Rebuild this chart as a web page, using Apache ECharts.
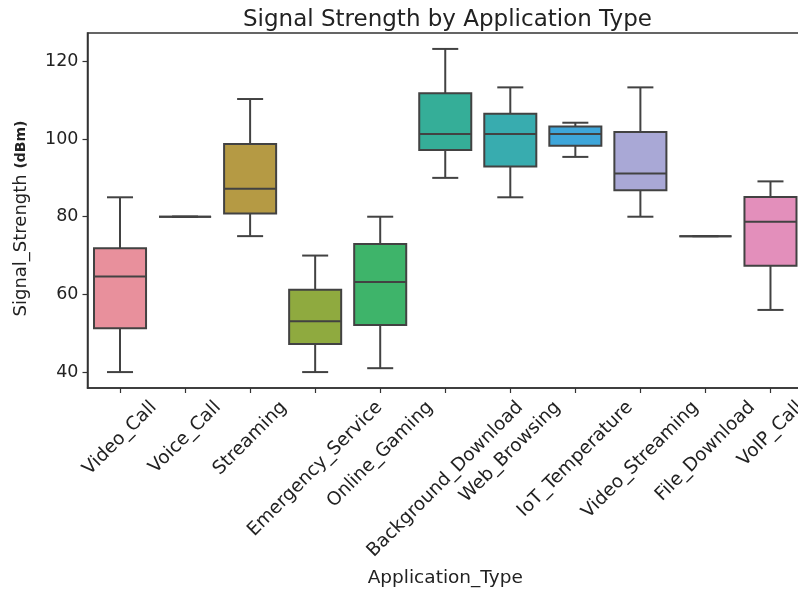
<!DOCTYPE html>
<html><head><meta charset="utf-8">
<script src="https://cdn.jsdelivr.net/npm/echarts@6/dist/echarts.min.js"></script>
<style>html,body{margin:0;padding:0;background:#fff}#c{width:798px;height:593px}</style>
</head><body><div id="c"></div>
<script>
const categories = ['Video_Call','Voice_Call','Streaming','Emergency_Service','Online_Gaming','Background_Download','Web_Browsing','IoT_Temperature','Video_Streaming','File_Download','VoIP_Call'];
const whiskerLow  = [40, 80, 75, 40, 41, 90, 85, 95.4, 80, 75, 56];
const q1          = [51.3, 80, 80.8, 47.2, 52.1, 97.2, 92.9, 98.3, 86.8, 75, 67.4];
const median      = [64.6, 80, 87.2, 53.1, 63.2, 101.3, 101.3, 101.3, 91.1, 75, 78.7];
const q3          = [71.9, 80, 98.7, 61.2, 73.0, 111.8, 106.5, 103.2, 101.8, 75, 85.1];
const whiskerHigh = [85, 80, 110.3, 70, 80, 123.2, 113.3, 104.2, 113.3, 75, 89.1];
const boxColors = ['#e8909c','#d9985a','#b59a44','#8faa3f','#3eb46a','#35ae98','#38acaf','#3ea6da','#a9a8d6','#c98fd6','#e38fbb'];
const yTicks = [40, 60, 80, 100, 120];

const FONT = '"DejaVu Sans", sans-serif';
const xLabelSize = 18.5;
const ctx = document.createElement('canvas').getContext('2d');
ctx.font = xLabelSize + 'px "DejaVu Sans"';
const labelW = categories.map(c => ctx.measureText(c).width);
const labelH = xLabelSize * 1.16;
const labelPad = 9;

const data = categories.map((c, i) => [i, whiskerLow[i], q1[i], median[i], q3[i], whiskerHigh[i]]);
const labelData = categories.map((c, i) => [i]);
const LC = '#424242';
const LW = 2;

const chart = echarts.init(document.getElementById('c'), null, {renderer: 'canvas'});
chart.setOption({
  backgroundColor: '#fff',
  animation: false,
  title: {
    text: 'Signal Strength by Application Type',
    left: 238, top: 4,
    textStyle: {fontFamily: FONT, fontSize: 23, fontWeight: 'normal', color: '#222'}
  },
  grid: {left: 87.5, right: -5, top: 33, bottom: 205, outerBoundsMode: 'none', containLabel: false, show: true, borderColor: '#333', borderWidth: 1.5, backgroundColor: 'transparent'},
  xAxis: {
    type: 'category',
    data: categories,
    boundaryGap: true,
    name: 'Application_Type',
    nameLocation: 'middle',
    nameGap: 181,
    nameTextStyle: {fontFamily: FONT, fontSize: 18.5, color: '#222', verticalAlign: 'top'},
    axisLine: {lineStyle: {color: '#333', width: 1.5}},
    axisTick: {show: true, alignWithLabel: true, length: 5, lineStyle: {color: '#333', width: 1.2}},
    axisLabel: {show: false, interval: 0},
    splitLine: {show: false}
  },
  yAxis: {
    type: 'value',
    min: 35.9, max: 127.3,
    name: '{a|Signal_Strength }{b|(dBm)}',
    nameLocation: 'middle',
    nameRotate: 90,
    nameGap: 57,
    nameTextStyle: {
      padding: [0, 16, 0, 0],
      rich: {
        a: {fontFamily: FONT, fontSize: 18, color: '#222'},
        b: {fontFamily: FONT, fontSize: 14, fontWeight: 'bold', color: '#222'}
      }
    },
    axisLine: {show: true, lineStyle: {color: '#333', width: 1.5}},
    axisTick: {show: true, length: 5, customValues: yTicks, lineStyle: {color: '#333', width: 1.2}},
    axisLabel: {customValues: yTicks, fontFamily: FONT, fontSize: 17.5, color: '#222', margin: 9},
    splitLine: {show: false}
  },
  series: [{
    type: 'custom',
    data: data,
    encode: {x: 0, y: [1, 2, 3, 4, 5]},
    renderItem: function (params, api) {
      const i = api.value(0);
      const band = api.size([1, 0])[0];
      const bw = band * 0.8;
      const cw = bw * 0.5;
      const x = api.coord([i, 0])[0];
      const yLo = api.coord([i, api.value(1)])[1];
      const yQ1 = api.coord([i, api.value(2)])[1];
      const yMed = api.coord([i, api.value(3)])[1];
      const yQ3 = api.coord([i, api.value(4)])[1];
      const yHi = api.coord([i, api.value(5)])[1];
      const ls = {stroke: LC, lineWidth: LW, fill: null};
      const children = [
        {type: 'line', shape: {x1: x, y1: yQ1, x2: x, y2: yLo}, style: ls},
        {type: 'line', shape: {x1: x, y1: yQ3, x2: x, y2: yHi}, style: ls},
        {type: 'line', shape: {x1: x - cw / 2, y1: yLo, x2: x + cw / 2, y2: yLo}, style: ls},
        {type: 'line', shape: {x1: x - cw / 2, y1: yHi, x2: x + cw / 2, y2: yHi}, style: ls},
        {type: 'rect', shape: {x: x - bw / 2, y: yQ3, width: bw, height: yQ1 - yQ3}, style: {fill: boxColors[params.dataIndex], stroke: LC, lineWidth: LW}},
        {type: 'line', shape: {x1: x - bw / 2, y1: yMed, x2: x + bw / 2, y2: yMed}, style: ls}
      ];
      return {type: 'group', children: children};
    }
  }, {
    type: 'custom',
    silent: true,
    clip: false,
    data: labelData,
    encode: {x: 0},
    renderItem: function (params, api) {
      const i = api.value(0);
      const x = api.coord([i, 0])[0];
      const axisY = params.coordSys.y + params.coordSys.height;
      const w = labelW[i];
      const cy = axisY + labelPad + (w + labelH) / (2 * Math.SQRT2);
      return {
        type: 'text',
        x: x, y: cy,
        rotation: Math.PI / 4,
        style: {text: categories[i], fontFamily: FONT, fontSize: xLabelSize, fill: '#222', align: 'center', verticalAlign: 'middle'}
      };
    }
  }]
});
</script>
</body></html>
